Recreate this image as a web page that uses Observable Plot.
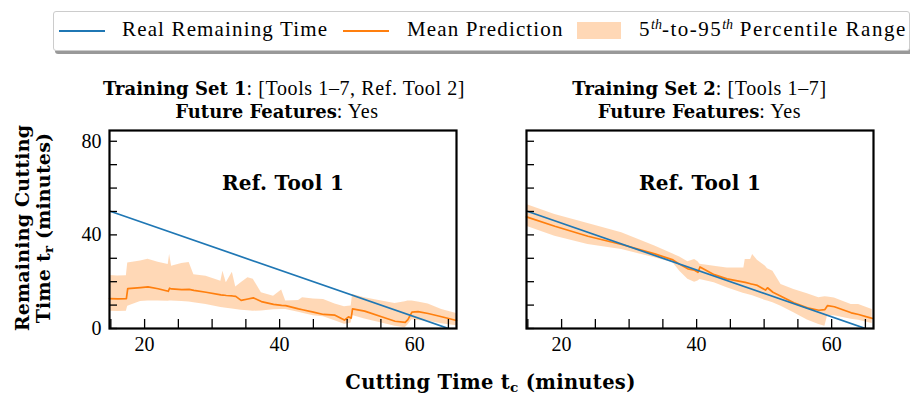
<!DOCTYPE html>
<html><head><meta charset="utf-8">
<script src="https://cdn.jsdelivr.net/npm/d3@7"></script>
<script src="https://cdn.jsdelivr.net/npm/@observablehq/plot@0.6"></script>
<style>
body{margin:0;background:#fff}
#wrap{position:relative;width:910px;height:399px;overflow:hidden;font-family:"Liberation Serif",serif;color:#000}
#wrap svg{position:absolute;left:0;top:0}
#wrap svg text{font-family:"Liberation Serif",serif}
#wrap svg g[aria-label="text"] text{font-family:"DejaVu Serif",serif;letter-spacing:0.3px}
.lg{position:absolute;left:53px;top:11px;width:855px;height:38px;border:1px solid #cccccc;border-radius:3px;box-shadow:2px 3px 0 rgba(0,0,0,0.4);background:#fff;z-index:2}
.lg .t{position:absolute;top:7px;font-size:21px;line-height:21px;letter-spacing:1.15px;white-space:nowrap}
.lg .t sup{font-size:14px;font-style:italic;vertical-align:7px;line-height:0;letter-spacing:0}
.sw{position:absolute;top:18px;height:2px;width:46px}
.patch{position:absolute;top:10px;height:17px;width:44px;background:#ff7f0e;opacity:0.3}
.ttl{position:absolute;top:77px;text-align:center;font-size:20px;line-height:22px;letter-spacing:0.6px;white-space:nowrap;z-index:2}
.ttl b{font-family:"DejaVu Serif",serif;font-size:18px;letter-spacing:0}
.yl{position:absolute;left:33px;top:228px;transform:translate(-50%,-50%) rotate(-90deg);font-family:"DejaVu Serif",serif;font-weight:bold;font-size:19px;line-height:21px;letter-spacing:0.2px;text-align:center;white-space:nowrap;z-index:2}
.xl{position:absolute;left:109px;width:763px;top:372px;text-align:center;font-family:"DejaVu Serif",serif;font-weight:bold;font-size:19.5px;line-height:22px;letter-spacing:0.3px;white-space:nowrap;z-index:2}
sub{font-size:0.7em;vertical-align:-0.25em;line-height:0}
</style></head>
<body>
<div id="wrap">
  <div class="lg">
    <div class="sw" style="left:5px;background:#1f77b4"></div>
    <span class="t" style="left:68px">Real Remaining Time</span>
    <div class="sw" style="left:289px;background:#ff7f0e"></div>
    <span class="t" style="left:353px">Mean Prediction</span>
    <div class="patch" style="left:523px"></div>
    <span class="t" style="left:585px;letter-spacing:1.5px">5<sup>th</sup>-to-95<sup>th</sup> Percentile Range</span>
  </div>
  <div class="ttl" style="left:103px;width:348px"><b>Training Set 1</b>: [Tools 1–7, Ref. Tool 2]<br><b>Future Features</b>: Yes</div>
  <div class="ttl" style="left:526px;width:347px"><b>Training Set 2</b>: [Tools 1–7]<br><b>Future Features</b>: Yes</div>
  <div class="yl">Remaining Cutting<br>Time t<sub>r</sub> (minutes)</div>
  <div class="xl">Cutting Time t<sub>c</sub> (minutes)</div>
</div>
<script>
// Panels
const panels = ["Training Set 1", "Training Set 2"];

// Real remaining time (minutes) vs cutting time
const realT = [14.8, 65.2];
const realR = [50.2, -0.2];

// Training Set 1 panel
const set1T    = [14.8, 16.0, 17.3, 17.5, 19.4, 20.5, 22.0, 23.5, 23.7, 24.0, 25.5, 26.6, 27.3, 29.1, 31.3, 31.6, 32.1, 33.0, 33.5, 34.3, 35.3, 36.1, 37.3, 39.1, 40.3, 40.9, 42.8, 43.4, 45.0, 46.5, 48.2, 49.6, 50.2, 50.6, 50.8, 52.6, 55.1, 57.1, 58.6, 59.0, 59.6, 60.5, 62.0, 64.0, 66.2];
const set1Lo   = [7.4, 7.3, 7.4, 9.5, 11.5, 11.7, 11.8, 11.6, 11.8, 11.8, 11.5, 11.3, 11.0, 10.3, 9.0, 8.9, 8.7, 8.3, 8.1, 7.8, 7.6, 7.4, 7.5, 8.0, 8.1, 8.1, 6.9, 6.5, 5.4, 5.0, 3.3, 1.8, 2.0, 2.4, 5.6, 4.1, 2.4, 1.0, 0.3, 1.5, 3.7, 3.4, 3.1, 2.0, 1.2];
const set1Mean = [12.8, 12.7, 12.8, 17.0, 17.5, 17.8, 17.0, 15.9, 17.2, 16.9, 16.6, 16.7, 16.3, 15.5, 14.4, 14.3, 14.1, 13.9, 13.7, 12.0, 12.6, 13.1, 11.5, 10.3, 9.9, 9.8, 8.4, 8.0, 7.0, 6.0, 5.7, 3.6, 5.0, 4.4, 8.4, 7.4, 5.0, 3.1, 2.6, 3.8, 7.0, 7.2, 6.4, 5.0, 3.4];
const set1Hi   = [22.6, 22.4, 22.5, 28.0, 28.8, 29.6, 28.3, 27.3, 31.6, 26.6, 27.8, 28.2, 23.0, 22.3, 20.2, 24.5, 19.6, 24.0, 17.7, 19.5, 21.7, 21.0, 15.3, 13.8, 16.4, 11.7, 12.0, 13.1, 12.6, 12.4, 10.5, 9.3, 9.5, 9.6, 14.5, 13.1, 11.7, 10.7, 11.4, 11.7, 11.7, 11.3, 10.5, 8.1, 6.4];

// Training Set 2 panel
const set2T    = [14.8, 19.0, 23.9, 28.9, 33.8, 36.5, 37.5, 38.7, 39.7, 40.2, 40.5, 42.6, 44.5, 47.0, 47.2, 48.0, 48.3, 49.0, 50.2, 50.5, 51.3, 52.5, 54.4, 56.4, 58.1, 59.0, 59.4, 60.4, 62.9, 64.0, 66.0];
const set2Lo   = [43.7, 39.4, 35.9, 33.8, 30.2, 28.1, 24.5, 21.0, 19.8, 20.3, 20.9, 19.5, 17.4, 15.0, 14.8, 14.2, 14.0, 13.2, 12.0, 11.8, 11.0, 9.5, 6.7, 3.6, 1.7, 1.0, 5.5, 5.5, 4.0, 3.5, 2.1];
const set2Mean = [47.7, 43.7, 39.4, 35.9, 31.9, 29.3, 27.4, 25.5, 24.9, 24.0, 26.3, 23.0, 21.2, 19.8, 19.7, 19.1, 18.9, 18.4, 16.4, 17.4, 15.5, 13.8, 11.0, 8.8, 7.8, 8.1, 9.8, 9.3, 6.7, 6.0, 4.3];
const set2Hi   = [53.0, 48.7, 44.9, 40.9, 35.2, 31.8, 30.5, 28.5, 29.5, 28.5, 27.5, 26.6, 25.9, 25.9, 29.5, 29.5, 31.6, 29.2, 26.6, 25.5, 24.5, 18.8, 16.7, 14.8, 13.1, 13.6, 13.5, 13.0, 10.3, 10.3, 8.1];

// Axis ticks
const xTicks = [15, 20, 25, 30, 35, 40, 45, 50, 55, 60, 65];
const xLabels = [20, 40, 60];
const yTicks = [0, 10, 20, 30, 40, 50, 60, 70, 80];
const yLabels = [0, 40, 80];

const rows = [
  ...set1T.map((t, i) => ({set: panels[0], t, lo: set1Lo[i], mean: set1Mean[i], hi: set1Hi[i]})),
  ...set2T.map((t, i) => ({set: panels[1], t, lo: set2Lo[i], mean: set2Mean[i], hi: set2Hi[i]}))
];
const realRows = realT.map((t, i) => ({t, r: realR[i]}));

const serif = "'Liberation Serif', serif";
const plot = Plot.plot({
  width: 910,
  height: 399,
  marginTop: 130,
  marginBottom: 71,
  marginLeft: 109,
  marginRight: 36,
  style: {fontFamily: serif, fontSize: "20px", background: "transparent", color: "black"},
  fx: {domain: panels, padding: 0.1675, axis: null, label: null},
  x: {domain: [14.8, 66.2]},
  y: {domain: [0, 84.6]},
  marks: [
    Plot.areaY(rows, {x: "t", y1: "lo", y2: "hi", fx: "set", fill: "#ff7f0e", fillOpacity: 0.3}),
    Plot.lineY(rows, {x: "t", y: "mean", fx: "set", stroke: "#ff7f0e", strokeWidth: 1.7}),
    Plot.line(realRows, {x: "t", y: "r", stroke: "#1f77b4", strokeWidth: 1.7, clip: true}),
    Plot.tickX(xTicks, {x: d => d, insetTop: 189, stroke: "black", strokeWidth: 1.3}),
    Plot.tickY(yTicks, {y: d => d, insetRight: 339, stroke: "black", strokeWidth: 1.3}),
    Plot.frame({stroke: "black", strokeWidth: 2.2}),
    Plot.text(["Ref. Tool 1"], {text: d => d, frameAnchor: "top", dy: 45, fontWeight: "bold", fontFamily: "DejaVu Serif", fontSize: 20}),
    Plot.axisX({ticks: xLabels, tickSize: 0, tickPadding: 8, label: null, fontFamily: serif, fontSize: 20}),
    Plot.axisY({ticks: yLabels, tickSize: 0, tickPadding: 8, label: null, facetAnchor: "left", fontFamily: serif, fontSize: 20})
  ]
});
document.getElementById("wrap").appendChild(plot);
</script>
</body></html>
